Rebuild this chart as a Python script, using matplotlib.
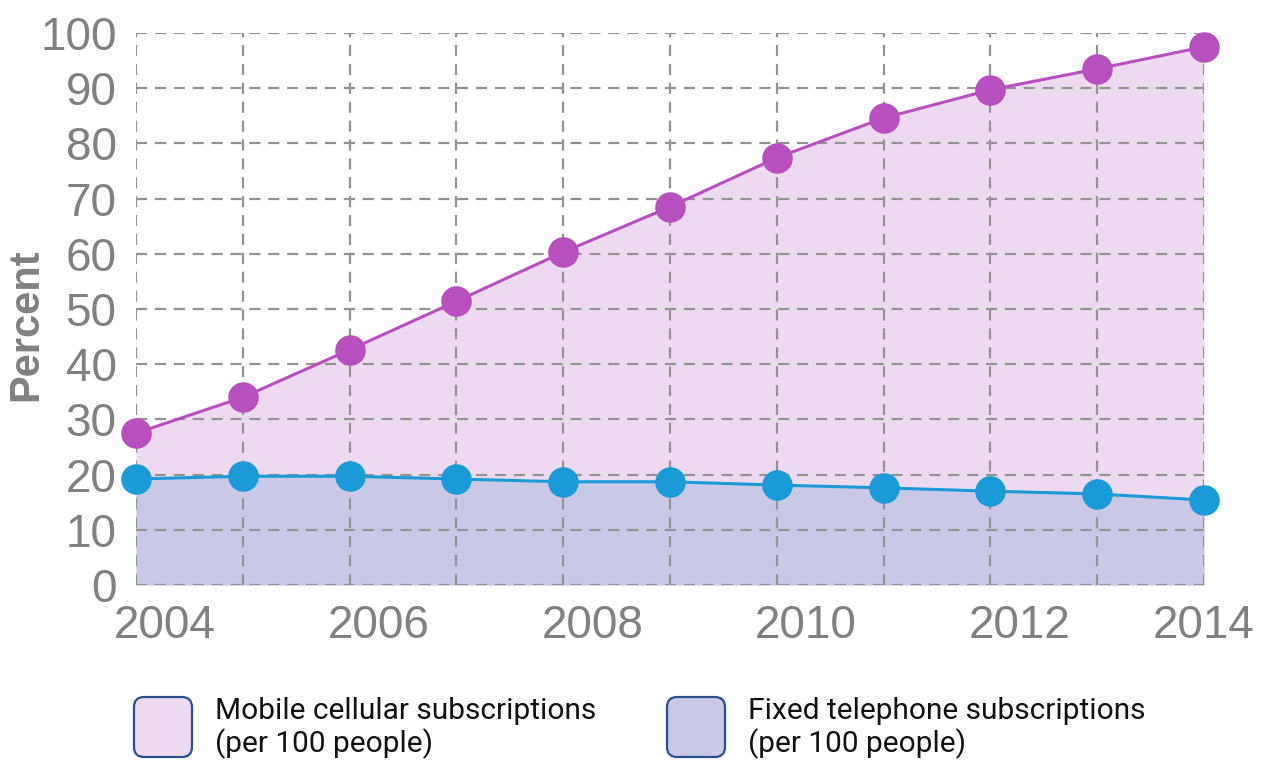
import matplotlib
matplotlib.use("Agg")
import matplotlib.pyplot as plt
import matplotlib.transforms as mtransforms
from matplotlib.patches import FancyBboxPatch

years = [2004, 2005, 2006, 2007, 2008, 2009, 2010, 2011, 2012, 2013, 2014]
mobile = [27.5, 34.0, 42.6, 51.4, 60.3, 68.5, 77.4, 84.6, 89.7, 93.5, 97.5]
fixed = [19.2, 19.7, 19.7, 19.2, 18.7, 18.7, 18.1, 17.6, 17.0, 16.5, 15.4]
yticks = [0, 10, 20, 30, 40, 50, 60, 70, 80, 90, 100]
xtick_labels = ["2004", "", "2006", "", "2008", "", "2010", "", "2012", "", "2014"]
legend_labels = ["Mobile cellular subscriptions\n(per 100 people)",
                 "Fixed telephone subscriptions\n(per 100 people)"]

mob_line = "#b84fbf"
mob_fill = "#eedaf0"
fix_line = "#1a9ad6"
fix_fill = "#c9c9e7"
grey = "#808080"

W, H = 1264, 760
fig = plt.figure(figsize=(W / 100, H / 100), dpi=100)
ax = fig.add_axes([136/W, 1-585/H, (1204-136)/W, (585-33)/H])

ax.fill_between(years, 0, mobile, color=mob_fill, zorder=1, lw=0)
ax.fill_between(years, 0, fixed, color=fix_fill, zorder=1.1, lw=0)
ax.plot(years, mobile, color=mob_line, lw=2.2, marker="o", ms=22,
        markeredgewidth=0, zorder=3, clip_on=False)
ax.plot(years, fixed, color=fix_line, lw=2.2, marker="o", ms=22,
        markeredgewidth=0, zorder=3, clip_on=False)

ax.set_xlim(2004, 2014)
ax.set_ylim(0, 100)
ax.set_xticks(years)
ax.set_xticklabels(xtick_labels)
ax.set_yticks(yticks)
ax.set_axisbelow("line")
ax.grid(True, color="#939393", linestyle=(0, (5, 3.5)), lw=1.6)
for s in ax.spines.values():
    s.set_visible(False)
ax.tick_params(length=0, labelsize=33, labelcolor=grey)
ax.tick_params(axis="x", pad=14)
ax.tick_params(axis="y", pad=14)
for lab in ax.get_xticklabels() + ax.get_yticklabels():
    lab.set_fontfamily("Liberation Sans")

# x labels sit a little to the right of their gridlines (except the last)
shift = mtransforms.ScaledTranslation(29 / 100, 0, fig.dpi_scale_trans)
xl = ax.get_xticklabels()
for lab in xl[:-1]:
    lab.set_transform(lab.get_transform() + shift)

ax.set_ylabel("Percent", fontsize=30, fontweight="bold", color=grey,
              family="Liberation Sans")
ax.yaxis.set_label_coords((46 - 136) / (1204 - 136), (585 - 325) / (585 - 33))

# Legend
for x0, fc, txt in [(134, mob_fill, legend_labels[0]), (667, fix_fill, legend_labels[1])]:
    box = FancyBboxPatch((x0 / W, 1 - 757 / H), 58 / W, 60 / H,
                         boxstyle="round,pad=0,rounding_size=0.008",
                         transform=fig.transFigure, facecolor=fc,
                         edgecolor="#2b4f8c", lw=1.6, mutation_aspect=W / H)
    fig.patches.append(box)
    fig.text((x0 + 81) / W, 1 - 728 / H, txt, fontsize=21.5, family="Roboto",
             color="#111111", va="center", ha="left", linespacing=1.1)

fig.savefig("out.png", dpi=100)
